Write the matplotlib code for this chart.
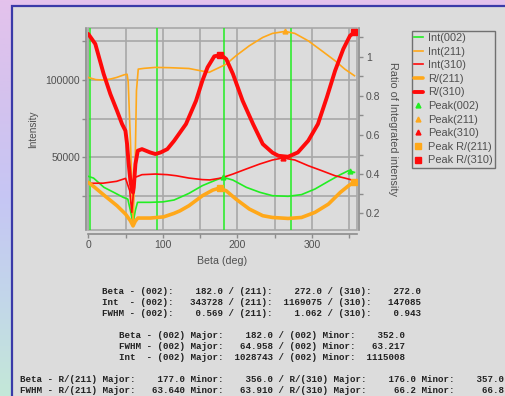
import numpy as np
import matplotlib
matplotlib.use("Agg")
import matplotlib.pyplot as plt
from matplotlib.patches import Rectangle
from matplotlib.colors import LinearSegmentedColormap

# ---- data ----
beta_i002 = [0, 7, 21, 34, 47, 53, 56.5, 60, 63, 66, 83, 100, 115, 123, 135, 153, 171, 181, 194, 212, 230, 247, 268, 286, 304, 322, 338, 349, 357]
int_002 = [37700, 36600, 30600, 27400, 24100, 23000, 15500, 7300, 15500, 20900, 20900, 21200, 22400, 24100, 26700, 31700, 35300, 37100, 35300, 30600, 27400, 25200, 24800, 25900, 29500, 34500, 38800, 41400, 40300]

beta_i211 = [0, 10, 20, 30, 38, 48, 52, 53.5, 56.5, 60, 63, 64.6, 67, 75, 90, 110, 135, 151, 162, 176, 185, 198, 216, 234, 247, 264, 277, 295, 313, 331, 344, 357]
int_211 = [101700, 100300, 100000, 100700, 101700, 103400, 103800, 99000, 60800, 6900, 50000, 93100, 107100, 107600, 108200, 108000, 107500, 106000, 105000, 108200, 110300, 115700, 122200, 127600, 130200, 131500, 130200, 125400, 119000, 112500, 107100, 102800]

beta_i310 = [0, 20, 38, 50, 55.6, 58.3, 61, 63, 72, 90, 106, 118, 135, 153, 163, 178, 194, 212, 230, 247, 261, 277, 295, 313, 331, 344, 357]
int_310 = [33200, 33300, 34500, 36400, 28400, 14400, 30000, 37100, 38800, 39200, 38800, 38100, 36600, 35600, 35400, 36600, 39200, 42500, 45700, 48300, 49600, 48300, 44600, 41400, 38100, 36600, 34900]

beta_r211 = [0, 8.5, 22, 38.5, 50, 56.5, 60, 63, 66.4, 83, 101, 115, 123, 135, 153, 167, 176, 185, 198, 216, 234, 247, 268, 286, 304, 322, 338, 349, 356]
ratio_211 = [0.358, 0.333, 0.290, 0.239, 0.196, 0.162, 0.136, 0.160, 0.176, 0.176, 0.182, 0.200, 0.213, 0.239, 0.290, 0.319, 0.329, 0.315, 0.273, 0.222, 0.188, 0.179, 0.174, 0.179, 0.205, 0.247, 0.307, 0.341, 0.358]

beta_r310 = [0, 9.4, 20.6, 29.6, 38.5, 45.3, 49.8, 52, 54.2, 56.5, 58.7, 60, 61, 63.2, 66.4, 72, 83, 90, 97, 106, 115, 131, 144.5, 153, 160, 169, 178, 185, 194, 207, 221, 234, 247, 255, 268, 281, 295, 308, 320, 331, 342, 351, 357]
ratio_310 = [1.116, 1.065, 0.912, 0.809, 0.724, 0.656, 0.622, 0.554, 0.452, 0.366, 0.315, 0.307, 0.333, 0.452, 0.520, 0.528, 0.511, 0.503, 0.511, 0.528, 0.570, 0.656, 0.775, 0.877, 0.946, 1.002, 1.009, 0.988, 0.912, 0.775, 0.656, 0.554, 0.510, 0.494, 0.489, 0.511, 0.571, 0.656, 0.793, 0.928, 1.039, 1.107, 1.125]

peak_beta_002 = [181, 351]
peak_int_002 = [37100, 41400]
peak_beta_211 = [264]
peak_int_211 = [131500]
peak_beta_310 = [261]
peak_int_310 = [49600]
peak_beta_r211 = [177, 356]
peak_ratio_r211 = [0.329, 0.358]
peak_beta_r310 = [176, 357]
peak_ratio_r310 = [1.009, 1.125]

marker_lines = [2, 92, 182, 272]

text_lines = [
    "Beta - (002):    182.0 / (211):    272.0 / (310):    272.0",
    "Int  - (002):   343728 / (211):  1169075 / (310):   147085",
    "FWHM - (002):    0.569 / (211):    1.062 / (310):    0.943",
    "Beta - (002) Major:    182.0 / (002) Minor:    352.0",
    "FWHM - (002) Major:   64.958 / (002) Minor:   63.217",
    "Int  - (002) Major:  1028743 / (002) Minor:  1115008",
    "Beta - R/(211) Major:    177.0 Minor:    356.0 / R/(310) Major:    176.0 Minor:    357.0",
    "FWHM - R/(211) Major:   63.640 Minor:   63.910 / R/(310) Major:     66.2 Minor:     66.8",
]
text_x = [102, 102, 102, 119, 119, 119, 20, 20]
text_y = [291.7, 302.7, 313.7, 335.3, 346.7, 357.7, 379.3, 390.3]

W, H = 506, 396
GREEN = "#22ee22"
ORANGE = "#ffa81a"
RED = "#ff0a0a"
BG = "#dcdcdc"
GRID = "#a8a8a8"
SPINE = "#8c8c8c"
LABEL = "#505050"
UI_FONT = ["Liberation Sans", "DejaVu Sans"]
FS = 7.2

plt.rcParams["font.family"] = UI_FONT

fig = plt.figure(figsize=(W / 100, H / 100), dpi=100)

# window background gradient + panel
bg_ax = fig.add_axes([0, 0, 1, 1], zorder=-10)
cmap = LinearSegmentedColormap.from_list("win", ["#e4c2ec", "#d4c2ee", "#c6c6f4", "#c2d6ea", "#c4e8d8"])
grad = np.linspace(0, 1, 256).reshape(-1, 1)
bg_ax.imshow(grad, aspect="auto", cmap=cmap, extent=[0, 1, 0, 1], origin="upper")
bg_ax.axis("off")
fig.patches.append(Rectangle((12 / W, -0.1), 1.2, 1.1 - 6 / H, transform=fig.transFigure,
                             facecolor=BG, edgecolor="#3a3aa8", linewidth=1.6, zorder=-5))

ax = fig.add_axes([88.3 / W, 1 - 230 / H, 268.4 / W, 201.7 / H])
ax.set_facecolor(BG)
ax2 = ax.twinx()
ax2.patch.set_visible(False)

# grid
ax.set_xlim(0, 360)
ax.set_ylim(3000, 133500)
ax2.set_ylim(0.115, 1.145)
ax.set_xticks([0, 100, 200, 300])
ax.set_xticks([50, 150, 250, 350], minor=True)
ax.set_yticks([50000, 100000])
ax.set_yticks([25000, 75000, 125000], minor=True)
ax.grid(True, which="both", color=GRID, linewidth=1.2)
ax.set_axisbelow(True)
ax2.set_yticks([0.2, 0.4, 0.6, 0.8, 1.0])
ax2.set_yticklabels(["0.2", "0.4", "0.6", "0.8", "1"])
ax2.set_yticks([0.3, 0.5, 0.7, 0.9, 1.1], minor=True)

for b in marker_lines:
    ax.axvline(b, color=GREEN, linewidth=1.1, zorder=1.5)

l1, = ax.plot(beta_i002, int_002, color=GREEN, linewidth=1.2, label="Int(002)", zorder=2)
l2, = ax.plot(beta_i211, int_211, color=ORANGE, linewidth=1.2, label="Int(211)", zorder=2)
l3, = ax.plot(beta_i310, int_310, color=RED, linewidth=1.2, label="Int(310)", zorder=2)
p1, = ax.plot(peak_beta_002, peak_int_002, "^", color=GREEN, markersize=3.5, linestyle="none", label="Peak(002)", zorder=3)
p2, = ax.plot(peak_beta_211, peak_int_211, "^", color=ORANGE, markersize=3.5, linestyle="none", label="Peak(211)", zorder=3)
p3, = ax.plot(peak_beta_310, peak_int_310, "^", color=RED, markersize=3.5, linestyle="none", label="Peak(310)", zorder=3)

r1, = ax2.plot(beta_r211, ratio_211, color=ORANGE, linewidth=2.6, label="R/(211)", solid_capstyle="round")
r2, = ax2.plot(beta_r310, ratio_310, color=RED, linewidth=2.8, label="R/(310)", solid_capstyle="round")
q1, = ax2.plot(peak_beta_r211, peak_ratio_r211, "s", color=ORANGE, markersize=4.5, linestyle="none", label="Peak R/(211)")
q2, = ax2.plot(peak_beta_r310, peak_ratio_r310, "s", color=RED, markersize=4.5, linestyle="none", label="Peak R/(310)")

# frame of the plot area
ax.add_patch(Rectangle((0, 0), 1, 1, transform=ax.transAxes, fill=False, edgecolor=GRID,
                       linewidth=1.2, zorder=1.4, clip_on=False))

# spines
for a in (ax, ax2):
    for s in a.spines.values():
        s.set_visible(False)
ax.spines["left"].set_visible(True)
ax.spines["left"].set_position(("outward", 1.5))
ax.spines["bottom"].set_visible(True)
ax.spines["bottom"].set_position(("outward", 3))
ax2.spines["right"].set_visible(True)
ax2.spines["right"].set_position(("outward", 2))
for a, s in ((ax, "left"), (ax, "bottom"), (ax2, "right")):
    a.spines[s].set_color(SPINE)
    a.spines[s].set_linewidth(1.2)

tick_kw = dict(direction="out", length=3, width=1, color=SPINE, labelcolor=LABEL, labelsize=FS + 0.3, pad=1.5)
ax.tick_params(axis="both", which="both", **tick_kw)
ax2.tick_params(axis="y", which="both", **tick_kw)

ax.set_xlabel("Beta (deg)", fontsize=FS + 0.5, color=LABEL, labelpad=4)
ax.set_ylabel("Intensity", fontsize=FS, color=LABEL, labelpad=5)
ax2.set_ylabel("Ratio of Integrated intensity", fontsize=FS + 0.6, color=LABEL, rotation=-90, labelpad=13)

handles = [l1, l2, l3, r1, r2, p1, p2, p3, q1, q2]
leg = fig.legend(handles=handles, loc="upper left", bbox_to_anchor=(411.7 / W, 1 - 30.7 / H),
                 fontsize=FS + 0.7, frameon=True, fancybox=False, borderaxespad=0, borderpad=0.2,
                 handlelength=0.8, handletextpad=0.5, labelspacing=0.33, markerscale=1.0)
leg.get_frame().set_facecolor(BG)
leg.get_frame().set_edgecolor("#555555")
leg.get_frame().set_linewidth(1.0)
for t in leg.get_texts():
    t.set_color(LABEL)

for s, x, y in zip(text_lines, text_x, text_y):
    fig.text(x / W, 1 - y / H, s, family=["Liberation Mono", "DejaVu Sans Mono"], weight="bold",
             fontsize=6.6, color="#222222", ha="left", va="center")

fig.savefig("out.png", dpi=100)
